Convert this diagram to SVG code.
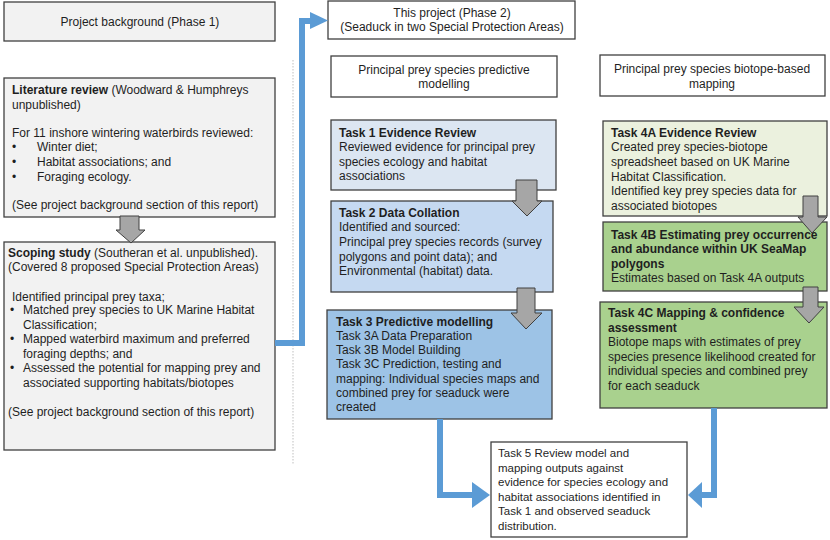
<svg xmlns="http://www.w3.org/2000/svg" width="830" height="540" viewBox="0 0 830 540">
<defs>
<style>
.t{font-family:"Liberation Sans",Arial,sans-serif;font-size:12px;fill:#1f1f1f}
.s{font-size:11.5px}
.b{font-weight:bold}
.c{text-anchor:middle}
.box{stroke:#404040;stroke-width:1.3}
.g{fill:#f2f2f2}
.w{fill:#ffffff}
.gar{fill:#a6a6a6;stroke:#404040;stroke-width:1}
.blue{fill:none;stroke:#5b9bd5;stroke-width:6}
.bh{fill:#5b9bd5}
</style>
</defs>
<rect width="830" height="540" fill="#ffffff"/>

<line x1="293" y1="60" x2="293" y2="465" stroke="#bfbfbf" stroke-width="1" stroke-dasharray="1.5,1.5"/>

<g id="phase1">
<rect class="box g" x="4" y="2" width="271" height="39"/>
<text class="t c" x="140" y="26">Project background  (Phase 1)</text>
</g>

<g id="literature">
<rect class="box g" x="4" y="78" width="271" height="139"/>
<text class="t" x="12" y="94"><tspan class="b">Literature review</tspan> (Woodward &amp; Humphreys</text>
<text class="t" x="12" y="109">unpublished)</text>
<text class="t" x="12" y="137">For 11 inshore wintering waterbirds reviewed:</text>
<text class="t" x="12" y="151">•</text><text class="t" x="37" y="151">Winter diet;</text>
<text class="t" x="12" y="166">•</text><text class="t" x="37" y="166">Habitat associations; and</text>
<text class="t" x="12" y="181">•</text><text class="t" x="37" y="181">Foraging ecology.</text>
<text class="t" x="12" y="209">(See project background section of this report)</text>
</g>

<g id="scoping">
<rect class="box g" x="4" y="242" width="271" height="208"/>
<text class="t" x="8" y="257"><tspan class="b">Scoping study</tspan> (Southeran et al. unpublished).</text>
<text class="t" x="8" y="271">(Covered 8 proposed Special Protection Areas)</text>
<text class="t" x="12" y="301">Identified  principal prey taxa;</text>
<text class="t" x="10" y="314">•</text><text class="t" x="23" y="314">Matched prey species to UK Marine Habitat</text>
<text class="t" x="23" y="329">Classification;</text>
<text class="t" x="10" y="343">•</text><text class="t" x="23" y="343">Mapped waterbird maximum and preferred</text>
<text class="t" x="23" y="358">foraging depths; and</text>
<text class="t" x="10" y="372">•</text><text class="t" x="23" y="372">Assessed the potential for mapping  prey and</text>
<text class="t" x="23" y="387">associated supporting habitats/biotopes</text>
<text class="t" x="8" y="416">(See project background section of this report)</text>
</g>

<g id="phase2">
<rect class="box w" x="328" y="1" width="247" height="38"/>
<text class="t c" x="452" y="17">This project (Phase 2)</text>
<text class="t c" x="452" y="31">(Seaduck in two Special Protection Areas)</text>
</g>

<g id="predictive-header">
<rect class="box w" x="331" y="56" width="226" height="41"/>
<text class="t c" x="444" y="74">Principal prey species predictive</text>
<text class="t c" x="444" y="88">modelling</text>
</g>

<g id="biotope-header">
<rect class="box w" x="600" y="55" width="225" height="41"/>
<text class="t c" x="712" y="73">Principal prey species biotope-based</text>
<text class="t c" x="712" y="88">mapping</text>
</g>

<g id="task1">
<rect class="box" fill="#dce6f2" x="331" y="120" width="225" height="70"/>
<text class="t b" x="339" y="137">Task 1 Evidence Review</text>
<text class="t" x="339" y="151">Reviewed evidence for principal prey</text>
<text class="t" x="339" y="166">species ecology and habitat</text>
<text class="t" x="339" y="180">associations</text>
</g>

<g id="task2">
<rect class="box" fill="#c5d9f1" x="331" y="201" width="222" height="91"/>
<text class="t b" x="339" y="217">Task 2 Data Collation</text>
<text class="t" x="339" y="231">Identified and sourced:</text>
<text class="t" x="339" y="246">Principal prey species records (survey</text>
<text class="t" x="339" y="261">polygons and point data); and</text>
<text class="t" x="339" y="275">Environmental  (habitat) data.</text>
</g>

<g id="task3">
<rect class="box" fill="#9dc3e6" x="327" y="310" width="225" height="109"/>
<text class="t b" x="336" y="326">Task 3 Predictive modelling</text>
<text class="t" x="336" y="340">Task 3A Data Preparation</text>
<text class="t" x="336" y="354">Task 3B Model Building</text>
<text class="t" x="336" y="368">Task 3C Prediction, testing and</text>
<text class="t" x="336" y="383">mapping:  Individual  species maps and</text>
<text class="t" x="336" y="397">combined prey for seaduck were</text>
<text class="t" x="336" y="411">created</text>
</g>

<g id="task4a">
<rect class="box" fill="#ebf1de" x="603" y="121" width="224" height="95"/>
<text class="t b" x="611" y="137">Task 4A Evidence Review</text>
<text class="t" x="611" y="151">Created prey species-biotope</text>
<text class="t" x="611" y="166">spreadsheet based on UK Marine</text>
<text class="t" x="611" y="181">Habitat Classification.</text>
<text class="t" x="611" y="195">Identified key prey species data for</text>
<text class="t" x="611" y="210">associated biotopes</text>
</g>

<g id="task4b">
<rect class="box" fill="#a9d18e" x="603" y="222" width="224" height="69"/>
<text class="t b" x="611" y="239">Task 4B Estimating prey occurrence</text>
<text class="t b" x="611" y="253">and abundance within UK SeaMap</text>
<text class="t b" x="611" y="268">polygons</text>
<text class="t" x="611" y="282">Estimates based on Task 4A outputs</text>
</g>

<g id="task4c">
<rect class="box" fill="#a9d18e" x="600" y="302" width="227" height="106"/>
<text class="t b" x="608" y="317">Task 4C Mapping &amp; confidence</text>
<text class="t b" x="608" y="332">assessment</text>
<text class="t" x="608" y="346">Biotope maps with  estimates of prey</text>
<text class="t" x="608" y="361">species presence likelihood  created for</text>
<text class="t" x="608" y="375">individual  species and combined  prey</text>
<text class="t" x="608" y="390">for each seaduck</text>
</g>

<g id="task5">
<rect class="box w" x="491" y="442" width="196" height="95"/>
<text class="t s" x="498" y="457">Task 5 Review model and</text>
<text class="t s" x="498" y="472">mapping outputs against</text>
<text class="t s" x="498" y="486">evidence for species ecology and</text>
<text class="t s" x="498" y="501">habitat associations identified in</text>
<text class="t s" x="498" y="515">Task 1 and observed seaduck</text>
<text class="t s" x="498" y="530">distribution.</text>
</g>

<g id="connectors">
<polygon class="gar" points="120,216 139,216 139,230 145,230 131,243 116,230 120,230"/>
<polygon class="gar" points="516,180 537,180 537,201 542,201 527,216 512,201 516,201"/>
<polygon class="gar" points="517,288 535,288 535,313 542,313 526,329 511,313 517,313"/>
<polygon class="gar" points="803,196 818,196 818,217 827,217 812,233 798,217 803,217"/>
<polygon class="gar" points="803,287 818,287 818,307 824,307 809,323 794,307 803,307"/>
<polyline class="blue" points="275,343 302,343 302,21 311,21"/>
<polygon class="bh" points="310,12 328,20.5 310,29"/>
<polyline class="blue" points="440,419 440,495 473,495"/>
<polygon class="bh" points="472,482 490,495 472,508"/>
<polyline class="blue" points="714,408 714,495 701,495"/>
<polygon class="bh" points="702,482 688,495 702,508"/>
</g>
</svg>
